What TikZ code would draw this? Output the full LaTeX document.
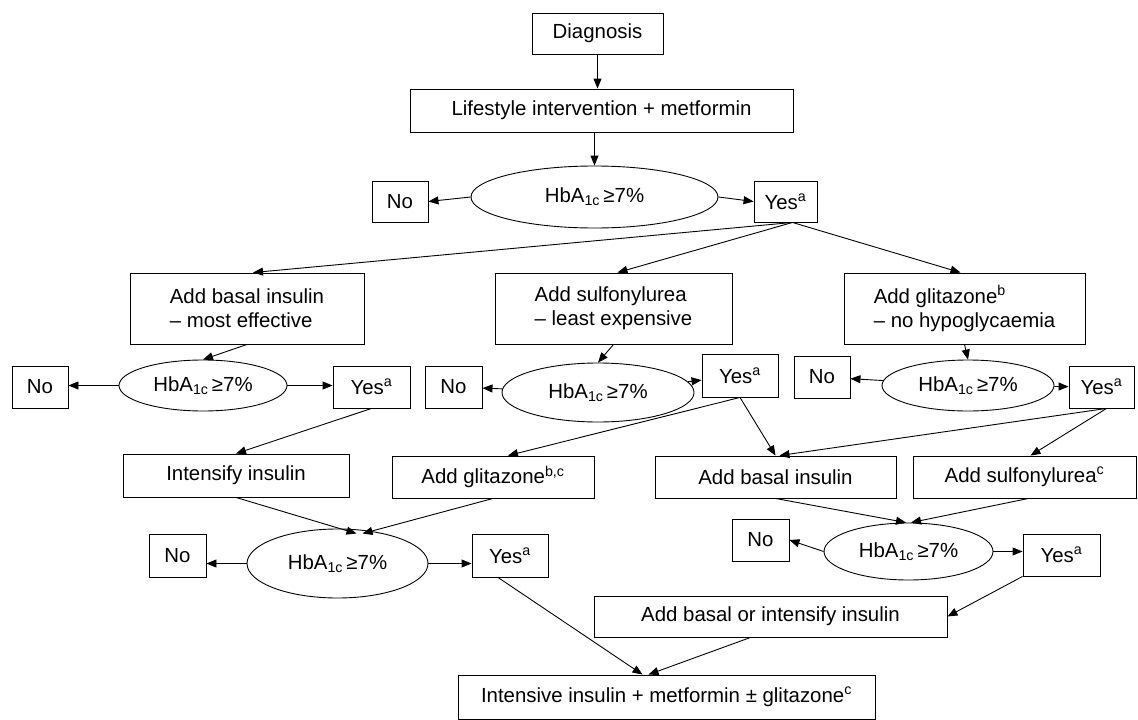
\documentclass[tikz,border=0pt]{standalone}
\usepackage{fontspec}
\setmainfont{Liberation Sans}
\usetikzlibrary{arrows.meta,shapes.geometric}

\tikzset{every picture/.style={line width=0.9pt}}
\newcommand{\hbatest}{HbA\textsubscript{1c}\,≥7\%}

\begin{document}
\begin{tikzpicture}[x=1pt,y=1pt,yscale=-1,xscale=1,
  font=\fontsize{20.4}{24}\selectfont,
  stepbox/.style={draw,rectangle,inner sep=0pt,align=left},
  hbaell/.style={draw,ellipse,inner sep=0pt},
  flow/.style={-{Triangle[length=10pt,width=8pt]}}]
\useasboundingbox (0,0) rectangle (1138,720);

%Shape: top row
\node[stepbox,minimum width=131,minimum height=41] (diag) at (597.5,33.5) {Diagnosis};
\node[stepbox,minimum width=383,minimum height=43] (life) at (601.5,110.5) {Lifestyle intervention + metformin};
\node[hbaell,minimum width=247,minimum height=62] (ell0) at (594.5,197) {\hbatest};
\node[stepbox,minimum width=56,minimum height=41] (no0) at (400,201.5) {No};
\node[stepbox,minimum width=63,minimum height=41] (yes0) at (785.5,201.5) {Yes\textsuperscript{a}};

%Shape: three first choices
\node[stepbox,minimum width=234,minimum height=71] (basal1) at (247,308.5) {Add basal insulin\\– most effective};
\node[stepbox,minimum width=237,minimum height=71] (sulf1) at (613.5,308.5) {Add sulfonylurea\\– least expensive};
\node[stepbox,minimum width=241,minimum height=71] (glit1) at (964.5,308.5) {Add glitazone\textsuperscript{b}\\– no hypoglycaemia};

%Shape: second tests
\node[hbaell,minimum width=168,minimum height=51] (ell1) at (203,385.5) {\hbatest};
\node[stepbox,minimum width=56,minimum height=42] (no1) at (40,387) {No};
\node[stepbox,minimum width=77,minimum height=42] (yes1) at (371.5,387) {Yes\textsuperscript{a}};

\node[hbaell,minimum width=192,minimum height=59] (ell2) at (598,392.5) {\hbatest};
\node[stepbox,minimum width=57,minimum height=42] (no2) at (453.5,387) {No};
\node[stepbox,minimum width=76,minimum height=43] (yes2) at (740,375.5) {Yes\textsuperscript{a}};

\node[hbaell,minimum width=172,minimum height=51] (ell3) at (968,385.5) {\hbatest};
\node[stepbox,minimum width=56,minimum height=42] (no3) at (822,377) {No};
\node[stepbox,minimum width=65,minimum height=42] (yes3) at (1101.5,387) {Yes\textsuperscript{a}};

%Shape: second choices
\node[stepbox,minimum width=226,minimum height=43] (intens) at (236,475.5) {Intensify insulin};
\node[stepbox,minimum width=202,minimum height=42] (glit2) at (493,477) {Add glitazone\textsuperscript{b,c}};
\node[stepbox,minimum width=241,minimum height=42] (basal2) at (775.5,477) {Add basal insulin};
\node[stepbox,minimum width=223,minimum height=42] (sulf2) at (1024.5,477) {Add sulfonylurea\textsuperscript{c}};

%Shape: third tests
\node[hbaell,minimum width=181,minimum height=69] (ell4) at (337.5,563.5) {\hbatest};
\node[stepbox,minimum width=57,minimum height=43] (no4) at (177.5,555.5) {No};
\node[stepbox,minimum width=76,minimum height=43] (yes4) at (510,555.5) {Yes\textsuperscript{a}};

\node[hbaell,minimum width=169,minimum height=57] (ell5) at (908.5,551.5) {\hbatest};
\node[stepbox,minimum width=57,minimum height=42] (no5) at (760.5,540) {No};
\node[stepbox,minimum width=77,minimum height=42] (yes5) at (1061.5,555) {Yes\textsuperscript{a}};

%Shape: last steps
\node[stepbox,minimum width=353,minimum height=41] (bori) at (770.5,616.5) {Add basal or intensify insulin};
\node[stepbox,minimum width=417,minimum height=44] (final) at (666.5,697) {Intensive insulin + metformin ± glitazone\textsuperscript{c}};

%Straight Lines: top
\draw[flow] (diag.south) -- (diag.south |- life.north);
\draw[flow] (life.south -| ell0.north) -- (ell0.north);
\draw[flow] (ell0.west) -- (no0.east);
\draw[flow] (ell0.east) -- (yes0.west);
\draw[flow] ([xshift=7]yes0.south) -- ([xshift=6]basal1.north);
\draw[flow] ([xshift=7]yes0.south) -- ([xshift=4]sulf1.north);
\draw[flow] ([xshift=7]yes0.south) -- ([xshift=-4]glit1.north);

%Straight Lines: left
\draw[flow] (basal1.south) -- (ell1.north);
\draw[flow] (ell1.west) -- (ell1.west -| no1.east);
\draw[flow] (ell1.east) -- (ell1.east -| yes1.west);
\draw[flow] (yes1.south) -- (intens.north);
\draw[flow] (intens.south) -- ([xshift=19,yshift=5]ell4.north);
\draw[flow] (glit2.south) -- ([xshift=25,yshift=5]ell4.north);
\draw[flow] (ell4.west) -- (ell4.west -| no4.east);
\draw[flow] (ell4.east) -- (ell4.east -| yes4.west);
\draw[flow] ([xshift=-12]yes4.south) -- ([xshift=-24]final.north);

%Straight Lines: middle
\draw[flow] (sulf1.south) -- (ell2.north);
\draw[flow] (ell2) -- (no2);
\draw[flow] (ell2) -- (yes2);
\draw[flow] (yes2.south) -- ([xshift=15]glit2.north);
\draw[flow] (yes2.south) -- (basal2.north);

%Straight Lines: right
\draw[flow] (glit1.south) -- (ell3.north);
\draw[flow] (ell3) -- (no3);
\draw[flow] (ell3) -- (yes3);
\draw[flow] ([xshift=5]yes3.south) -- ([xshift=4]basal2.north);
\draw[flow] ([xshift=5]yes3.south) -- ([xshift=6]sulf2.north);
\draw[flow] (basal2.south) -- ([xshift=-2.5]ell5.north);
\draw[flow] ([xshift=4]sulf2.south) -- ([xshift=2.5]ell5.north);
\draw[flow] (ell5.west) -- (no5.east);
\draw[flow] (ell5.east) -- (ell5.east -| yes5.west);
\draw[flow] (yes5.south west) -- (bori.east);
\draw[flow] ([xshift=-20]bori.south) -- ([xshift=-18]final.north);

\end{tikzpicture}
\end{document}
